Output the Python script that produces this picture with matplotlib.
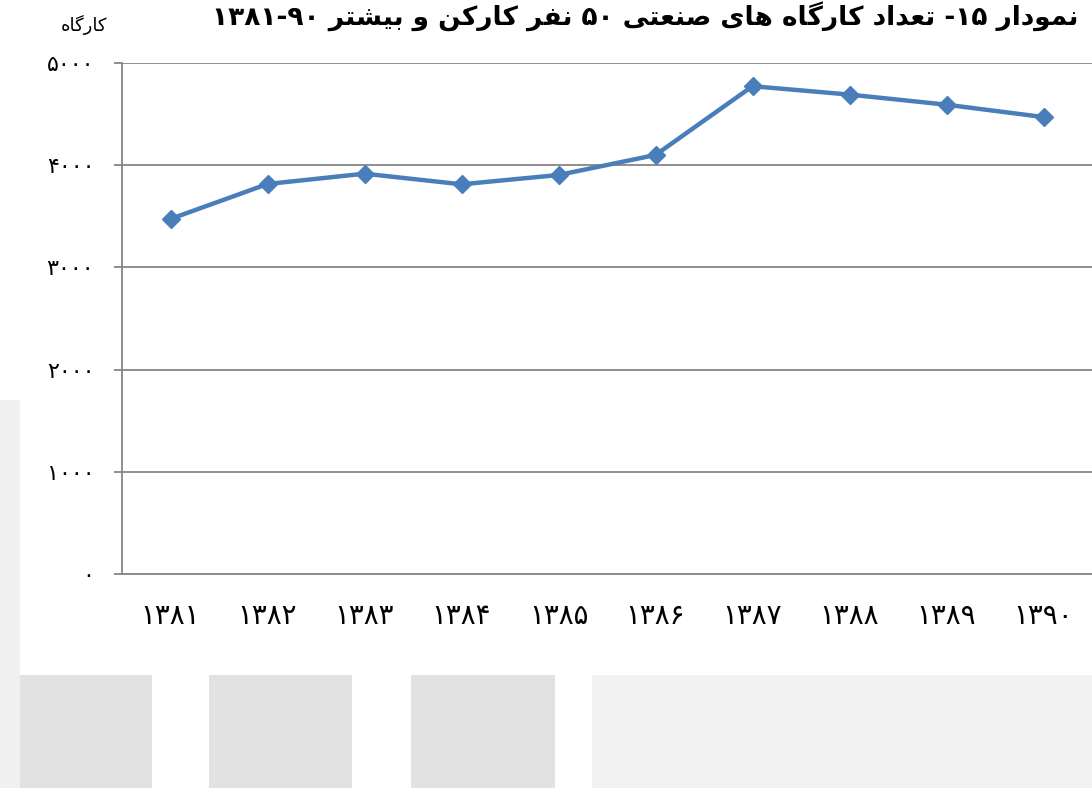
import re
import matplotlib
matplotlib.use("Agg")
import matplotlib.pyplot as plt
from matplotlib.patches import Rectangle

# ---------------- data ----------------
years = ["۱۳۸۱", "۱۳۸۲", "۱۳۸۳", "۱۳۸۴", "۱۳۸۵", "۱۳۸۶", "۱۳۸۷", "۱۳۸۸", "۱۳۸۹", "۱۳۹۰"]
workshops = [3474, 3816, 3917, 3813, 3904, 4100, 4773, 4691, 4592, 4471]
y_ticks = [0, 1000, 2000, 3000, 4000, 5000]
y_label = "کارگاه"
title = "نمودار ۱۵- تعداد کارگاه های صنعتی ۵۰ نفر کارکن و بیشتر ۹۰-۱۳۸۱"

# ---------------- minimal Persian shaping ----------------
FORMS = {
    'ا': ('\uFE8D', '\uFE8E', None, None),
    'ب': ('\uFE8F', '\uFE90', '\uFE91', '\uFE92'),
    'ت': ('\uFE95', '\uFE96', '\uFE97', '\uFE98'),
    'د': ('\uFEA9', '\uFEAA', None, None),
    'ر': ('\uFEAD', '\uFEAE', None, None),
    'ش': ('\uFEB5', '\uFEB6', '\uFEB7', '\uFEB8'),
    'ص': ('\uFEB9', '\uFEBA', '\uFEBB', '\uFEBC'),
    'ع': ('\uFEC9', '\uFECA', '\uFECB', '\uFECC'),
    'ف': ('\uFED1', '\uFED2', '\uFED3', '\uFED4'),
    'م': ('\uFEE1', '\uFEE2', '\uFEE3', '\uFEE4'),
    'ن': ('\uFEE5', '\uFEE6', '\uFEE7', '\uFEE8'),
    'ه': ('\uFEE9', '\uFEEA', '\uFEEB', '\uFEEC'),
    'و': ('\uFEED', '\uFEEE', None, None),
    'ک': ('\uFB8E', '\uFB8F', '\uFB90', '\uFB91'),
    'گ': ('\uFB92', '\uFB93', '\uFB94', '\uFB95'),
    'ی': ('\uFBFC', '\uFBFD', '\uFBFE', '\uFBFF'),
}


def shape(text):
    out = []
    n = len(text)
    for i, c in enumerate(text):
        if c not in FORMS:
            out.append(c)
            continue
        iso, fin, ini, med = FORMS[c]
        prev = text[i - 1] if i > 0 else None
        nxt = text[i + 1] if i + 1 < n else None
        jp = prev in FORMS and FORMS[prev][2] is not None
        jn = nxt in FORMS and ini is not None
        if jp and jn:
            out.append(med)
        elif jp:
            out.append(fin)
        elif jn:
            out.append(ini)
        else:
            out.append(iso)
    vis = ''.join(out)[::-1]
    vis = re.sub(r'[۰-۹]+', lambda m: m.group(0)[::-1], vis)
    return vis


fa_digits = str.maketrans("0123456789", "۰۱۲۳۴۵۶۷۸۹")

# ---------------- figure ----------------
W, H = 1092, 788
fig = plt.figure(figsize=(W / 100, H / 100), dpi=100)
fig.patch.set_facecolor("white")

# background decoration (grey blocks under the chart)
def frect(x0, y0, x1, y1, color):
    fig.patches.append(Rectangle((x0 / W, 1 - y1 / H), (x1 - x0) / W, (y1 - y0) / H,
                                 transform=fig.transFigure, facecolor=color,
                                 edgecolor="none", zorder=0))

frect(0, 400, 20, 788, "#f0f0f0")
frect(20, 675, 152, 788, "#e2e2e2")
frect(209, 675, 352, 788, "#e2e2e2")
frect(411, 675, 555, 788, "#e2e2e2")
frect(592, 675, 1092, 788, "#f2f2f2")

ax = fig.add_axes([122 / W, 1 - 574 / H, 970 / W, 511 / H])
ax.set_facecolor("white")
ax.set_zorder(2)

x = list(range(len(years)))
ax.plot(x, workshops, color="#4a7ebb", lw=3.2, marker="D", markersize=9,
        markeredgecolor="#4a7ebb", markerfacecolor="#4a7ebb", zorder=3,
        solid_joinstyle="round")

ax.set_xlim(-0.5, len(years) - 0.5)
ax.set_ylim(0, 5000)
ax.set_yticks(y_ticks)
ax.set_yticklabels([str(v).translate(fa_digits) for v in y_ticks],
                   fontsize=16, family=["DejaVu Sans"])
ax.set_xticks(x)
ax.set_xticklabels(years, fontsize=20, family=["DejaVu Sans"])

ax.yaxis.grid(True, color="#868686", lw=1.3)
ax.set_axisbelow(True)
for s in ("top", "right"):
    ax.spines[s].set_visible(False)
for s in ("left", "bottom"):
    ax.spines[s].set_color("#868686")
    ax.spines[s].set_linewidth(1.3)
ax.tick_params(axis="y", length=6, width=1.3, color="#868686", pad=14)
ax.tick_params(axis="x", length=0, pad=20)

fig.text(84 / W, 1 - 25 / H, shape(y_label), fontsize=13, ha="center", va="center",
         family=["DejaVu Sans"])
fig.text(645 / W, 1 - 1 / H, shape(title), fontsize=19, fontweight="bold",
         ha="center", va="top", family=["DejaVu Sans"])

fig.savefig("out.png", dpi=100)
